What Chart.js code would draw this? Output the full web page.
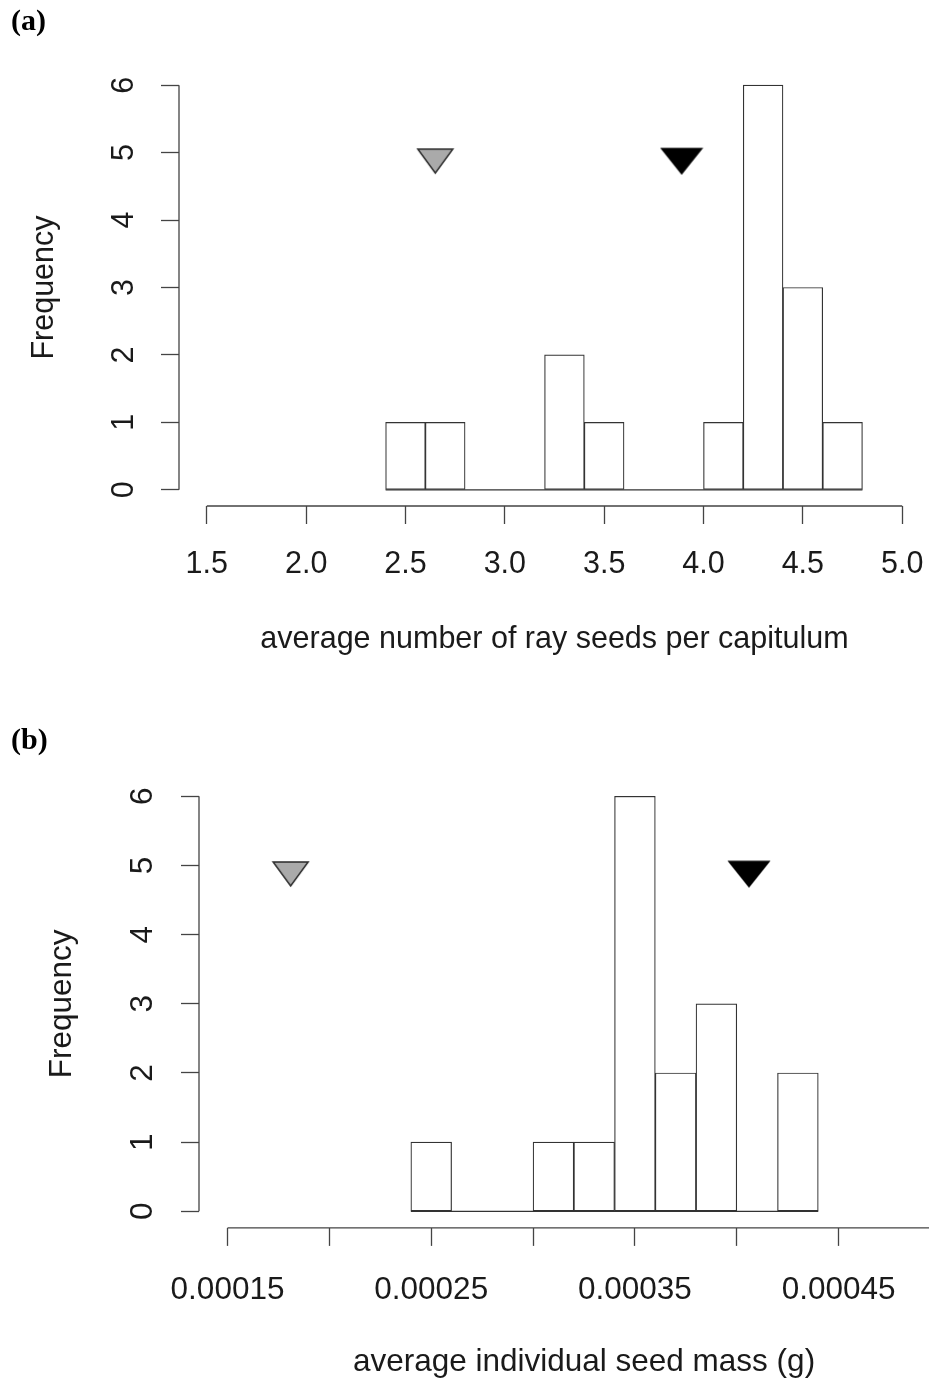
<!DOCTYPE html>
<html>
<head>
<meta charset="utf-8">
<script src="https://cdn.jsdelivr.net/npm/chart.js@4.4.1/dist/chart.umd.min.js"></script>
<style>
  html, body { margin: 0; padding: 0; background: #fff; overflow: hidden; }
  body { width: 929px; height: 1381px; position: relative; }
  .panel { position: absolute; left: 0; width: 970px; }
  #panelA { top: 0; height: 700px; }
  #panelB { top: 720px; height: 661px; }
</style>
</head>
<body>
<div class="panel" id="panelA"><canvas id="chartA"></canvas></div>
<div class="panel" id="panelB"><canvas id="chartB"></canvas></div>
<script>
// (a) ray seeds per capitulum
const binsA = [2.4, 2.6, 2.8, 3.0, 3.2, 3.4, 3.6, 3.8, 4.0, 4.2, 4.4, 4.6];
const countsA = [1, 1, 0, 0, 2, 1, 0, 0, 1, 6, 3, 1];
const binWidthA = 0.2;
const xTicksA = [1.5, 2.0, 2.5, 3.0, 3.5, 4.0, 4.5, 5.0];
const xLabelsA = ['1.5', '2.0', '2.5', '3.0', '3.5', '4.0', '4.5', '5.0'];
const grayMeanA = 2.65;
const blackMeanA = 3.89;

// (b) individual seed mass
const binsB = [0.00024, 0.00026, 0.00028, 0.00030, 0.00032, 0.00034, 0.00036, 0.00038, 0.00040, 0.00042];
const countsB = [1, 0, 0, 1, 1, 6, 2, 3, 0, 2];
const binWidthB = 0.00002;
const xTicksB = [0.00015, 0.00020, 0.00025, 0.00030, 0.00035, 0.00040, 0.00045, 0.00050];
const xLabelsB = ['0.00015', '', '0.00025', '', '0.00035', '', '0.00045', ''];
const grayMeanB = 0.000181;
const blackMeanB = 0.000406;

const yTicks = [0, 1, 2, 3, 4, 5, 6];
const yLabels = ['0', '1', '2', '3', '4', '5', '6'];
const markerLevel = 5;

const axisColor = '#444';
const edgeColor = '#333';
const textColor = '#1a1a1a';

// down-pointing triangle used as a point style, drawn off the point centre like R's pch 25
function downTriangle(w, h, above, fill, stroke) {
  const c = document.createElement('canvas');
  c.width = w + 4;
  c.height = 2 * (h - above) + 4;
  const g = c.getContext('2d');
  const mid = c.height / 2;
  g.beginPath();
  g.moveTo(2, mid - above);
  g.lineTo(w + 2, mid - above);
  g.lineTo(w / 2 + 2, mid - above + h);
  g.closePath();
  g.fillStyle = fill;
  g.fill();
  g.lineWidth = 1.5;
  g.strokeStyle = stroke;
  g.stroke();
  return c;
}

const spines = {
  id: 'spines',
  afterDraw(chart, args, o) {
    const x = chart.scales.x, y = chart.scales.y, ctx = chart.ctx;
    ctx.save();
    ctx.strokeStyle = axisColor;
    ctx.lineWidth = 1.3;
    ctx.beginPath();
    ctx.moveTo(x.getPixelForValue(o.x0), x.top);
    ctx.lineTo(x.getPixelForValue(o.x1), x.top);
    ctx.moveTo(y.right, y.getPixelForValue(o.y0));
    ctx.lineTo(y.right, y.getPixelForValue(o.y1));
    ctx.stroke();
    ctx.restore();
  }
};

function histogram(id, p) {
  const font = { family: 'Liberation Sans, Arial, sans-serif', size: p.fontSize };
  const last = p.bins.length - 1;
  new Chart(document.getElementById(id), {
    type: 'bar',
    data: {
      datasets: [
        {
          type: 'line', showLine: false,
          data: [{ x: p.gray, y: markerLevel }],
          pointStyle: downTriangle(35, 24, 3.5, '#aaaaaa', '#2a2a2a'),
          pointRadius: 10
        },
        {
          type: 'line', showLine: false,
          data: [{ x: p.black, y: markerLevel }],
          pointStyle: downTriangle(40, 25, 4, '#000000', '#000000'),
          pointRadius: 10
        },
        {
          type: 'line',
          data: [{ x: p.bins[0], y: 0 }, { x: p.bins[last] + p.binWidth, y: 0 }],
          borderColor: edgeColor, borderWidth: 1.2, pointRadius: 0, fill: false
        },
        {
          type: 'bar',
          data: p.bins.map((b, i) => ({ x: b + p.binWidth / 2, y: p.counts[i] })),
          backgroundColor: '#ffffff',
          borderColor: edgeColor,
          borderWidth: 1.2,
          borderSkipped: false,
          barPercentage: 1,
          categoryPercentage: 1
        }
      ]
    },
    options: {
      responsive: true,
      maintainAspectRatio: false,
      devicePixelRatio: 1,
      animation: false,
      events: [],
      layout: { padding: p.padding, autoPadding: false },
      plugins: {
        legend: { display: false },
        tooltip: { enabled: false },
        title: {
          display: true, text: p.title, align: 'start', color: '#000',
          font: { family: 'Liberation Serif, Times New Roman, serif', weight: 'bold', size: 30 },
          padding: p.titlePad
        },
        spines: { x0: p.xTicks[0], x1: p.xTicks[p.xTicks.length - 1], y0: yTicks[0], y1: yTicks[yTicks.length - 1] }
      },
      scales: {
        x: {
          type: 'linear', min: p.xMin, max: p.xMax, offset: false, bounds: 'data',
          afterBuildTicks: a => {
            a.ticks = p.xTicks.map(v => ({ value: v }));
            a.min = p.xMin;
            a.max = p.xMax;
          },
          afterFit: a => { a.height = p.xHeight; a.paddingLeft = 0; a.paddingRight = 0; },
          grid: { offset: false, drawOnChartArea: false, drawTicks: true, tickLength: 18, tickColor: axisColor, tickWidth: 1.3 },
          border: { display: false },
          ticks: {
            autoSkip: false, maxRotation: 0, minRotation: 0, color: textColor, font,
            padding: p.xTickPad,
            callback: (v, i) => p.xLabels[i]
          },
          title: { display: true, text: p.xTitle, color: textColor, font, padding: { top: 0, bottom: p.xTitlePad } }
        },
        y: {
          type: 'linear', min: -0.24, max: 6.24, bounds: 'data',
          afterBuildTicks: a => {
            a.ticks = yTicks.map(v => ({ value: v }));
            a.min = -0.24;
            a.max = 6.24;
          },
          afterFit: a => { a.width = p.yWidth; },
          grid: { drawOnChartArea: false, drawTicks: true, tickLength: 18, tickColor: axisColor, tickWidth: 1.3 },
          border: { display: false },
          ticks: {
            autoSkip: false, minRotation: 90, maxRotation: 90, crossAlign: 'center',
            color: textColor, font, padding: p.yTickPad,
            callback: (v, i) => yLabels[i]
          },
          title: { display: true, text: 'Frequency', color: textColor, font, padding: { top: p.yTitlePad, bottom: 0 } }
        }
      }
    },
    plugins: [spines]
  });
}

histogram('chartA', {
  title: '(a)', bins: binsA, counts: countsA, binWidth: binWidthA,
  xTicks: xTicksA, xLabels: xLabelsA, gray: grayMeanA, black: blackMeanA,
  xTitle: 'average number of ray seeds per capitulum',
  xMin: 1.36, xMax: 5.14, fontSize: 30.5,
  padding: { left: 11, right: 40, top: 0, bottom: 0 },
  titlePad: { top: 4, bottom: 29 },
  yWidth: 168, xHeight: 194,
  yTickPad: 27.5, yTitlePad: 15.2, xTickPad: 22.7, xTitlePad: 41.7
});

histogram('chartB', {
  title: '(b)', bins: binsB, counts: countsB, binWidth: binWidthB,
  xTicks: xTicksB, xLabels: xLabelsB, gray: grayMeanB, black: blackMeanB,
  xTitle: 'average individual seed mass (g)',
  xMin: 0.000136, xMax: 0.000514, fontSize: 31.5,
  padding: { left: 11, right: 1, top: 0, bottom: 0 },
  titlePad: { top: 3.5, bottom: 20.2 },
  yWidth: 188, xHeight: 153.1,
  yTickPad: 28.9, yTitlePad: 32.6, xTickPad: 25.7, xTitlePad: 0.1
});
</script>
</body>
</html>
